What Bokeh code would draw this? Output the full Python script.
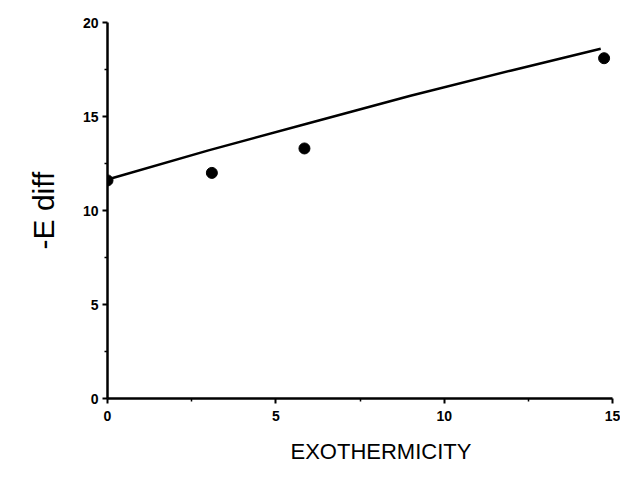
from bokeh.plotting import figure
from bokeh.models import Range1d, FixedTicker, Title
from bokeh.embed import file_html
from bokeh.resources import INLINE

# Data
points_x = [0.0, 3.1, 5.85, 14.75]
points_y = [11.6, 12.0, 13.3, 18.1]
fit_x = [0.0, 3.0, 6.0, 9.0, 12.0, 14.65]
fit_y = [11.65, 13.2, 14.65, 16.1, 17.45, 18.6]
x_ticks = [0, 5, 10, 15]
y_ticks = [0, 5, 10, 15, 20]
x_minor = [2.5, 7.5, 12.5]
y_minor = [2.5, 7.5, 12.5, 17.5]
x_label = "EXOTHERMICITY"
y_label = "-E diff"

FONT = "Liberation Sans"

p = figure(width=620, height=477, output_backend="svg", toolbar_location=None,
           x_range=Range1d(0, 15), y_range=Range1d(0, 20),
           min_border_left=107, min_border_right=8, min_border_top=22, min_border_bottom=79)

p.outline_line_color = None
p.grid.visible = False
p.background_fill_color = "white"
p.border_fill_color = "white"

p.xaxis.ticker = FixedTicker(ticks=x_ticks, minor_ticks=x_minor)
p.yaxis.ticker = FixedTicker(ticks=y_ticks, minor_ticks=y_minor)

for ax in (p.xaxis[0], p.yaxis[0]):
    ax.axis_line_width = 2.5
    ax.axis_line_color = "black"
    ax.major_tick_line_width = 2
    ax.major_tick_line_color = "black"
    ax.minor_tick_line_width = 1.5
    ax.minor_tick_line_color = "black"
    ax.major_tick_in = 0
    ax.major_tick_out = 5
    ax.minor_tick_in = 0
    ax.minor_tick_out = 3
    ax.major_label_text_font = FONT
    ax.major_label_text_font_size = "14px"
    ax.major_label_text_font_style = "bold"
    ax.major_label_text_color = "black"

p.xaxis.major_label_standoff = 7
p.yaxis.major_label_standoff = 4

p.yaxis.axis_label = y_label
p.yaxis.axis_label_text_font = FONT
p.yaxis.axis_label_text_font_size = "30px"
p.yaxis.axis_label_text_font_style = "normal"
p.yaxis.axis_label_text_color = "black"
p.yaxis.axis_label_standoff = 20

p.line(fit_x, fit_y, line_color="black", line_width=2.5)
p.scatter(points_x, points_y, size=11, color="black")

xt = Title(text=x_label, align="left", offset=183, standoff=26, vertical_align="bottom",
           text_font=FONT, text_font_size="22px", text_font_style="normal",
           text_color="black")
p.add_layout(xt, "below")

open("out.html", "w").write(file_html(p, INLINE))
